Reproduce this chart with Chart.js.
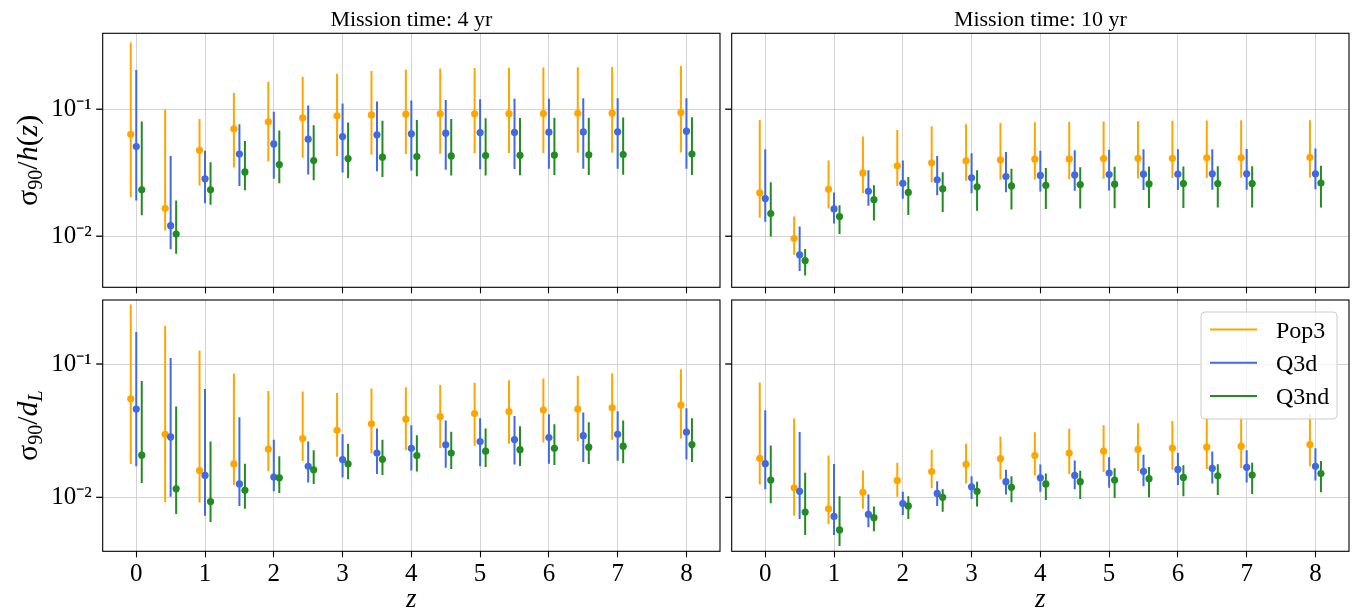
<!DOCTYPE html>
<html>
<head>
<meta charset="utf-8">
<script src="https://cdn.jsdelivr.net/npm/chart.js@4.4.0/dist/chart.umd.min.js"></script>
<style>
  html, body { margin: 0; padding: 0; background: #fff; }
  #fig { position: relative; width: 1353px; height: 610px; overflow: hidden; }
  #fig canvas { position: absolute; }
</style>
</head>
<body>
<div id="fig">
  <canvas id="h4" width="726" height="296" style="left:0px;top:0px"></canvas>
  <canvas id="h10" width="637" height="296" style="left:716px;top:0px"></canvas>
  <canvas id="dl4" width="726" height="314" style="left:0px;top:296px"></canvas>
  <canvas id="dl10" width="637" height="314" style="left:716px;top:296px"></canvas>
</div>
<script>
// redshift bins
const zValues = [0, 0.5, 1, 1.5, 2, 2.5, 3, 3.5, 4, 4.5, 5, 5.5, 6, 6.5, 7, 8];
const seriesNames = ["Pop3", "Q3d", "Q3nd"];
const xTickValues = [0, 1, 2, 3, 4, 5, 6, 7, 8];

// each row: [lower, median, upper]  -- sigma90 / h(z), 4 yr
const h4Pop3 = [[0.0203, 0.0635, 0.335], [0.0111, 0.0166, 0.0989], [0.0251, 0.0475, 0.0839], [0.0347, 0.070, 0.134],
  [0.0387, 0.0795, 0.164], [0.0414, 0.0855, 0.180], [0.0429, 0.0887, 0.190], [0.0437, 0.0902, 0.200],
  [0.0443, 0.0914, 0.205], [0.0445, 0.0919, 0.209], [0.0451, 0.0919, 0.211], [0.0452, 0.0922, 0.212],
  [0.0453, 0.0925, 0.213], [0.0454, 0.0928, 0.214], [0.0455, 0.093, 0.215], [0.0456, 0.0942, 0.219]];
const h4Q3d = [[0.0191, 0.0508, 0.204], [0.0079, 0.0121, 0.0429], [0.0182, 0.0283, 0.047], [0.0249, 0.0443, 0.0762],
  [0.0283, 0.0533, 0.0953], [0.0306, 0.0581, 0.107], [0.0317, 0.0609, 0.111], [0.0325, 0.0628, 0.115],
  [0.0329, 0.064, 0.117], [0.0333, 0.0647, 0.118], [0.0337, 0.0655, 0.120], [0.0338, 0.0657, 0.121],
  [0.0339, 0.066, 0.121], [0.034, 0.0662, 0.122], [0.034, 0.0664, 0.122], [0.0339, 0.0671, 0.122]];
const h4Q3nd = [[0.0146, 0.0232, 0.080], [0.00726, 0.0104, 0.0191], [0.0177, 0.0232, 0.0383], [0.023, 0.0321, 0.0563],
  [0.0261, 0.0367, 0.0679], [0.0276, 0.0394, 0.0748], [0.0286, 0.0409, 0.0785], [0.0293, 0.0419, 0.081],
  [0.0297, 0.0424, 0.0824], [0.0301, 0.0429, 0.0839], [0.0301, 0.0432, 0.0849], [0.0302, 0.0433, 0.0852],
  [0.0303, 0.0435, 0.0855], [0.0304, 0.0437, 0.0857], [0.0305, 0.0439, 0.086], [0.0304, 0.0443, 0.0865]];

// sigma90 / h(z), 10 yr
const h10Pop3 = [[0.014, 0.0219, 0.0824], [0.00713, 0.00959, 0.0143], [0.0165, 0.0234, 0.0394], [0.0218, 0.0315, 0.0609],
  [0.0249, 0.0358, 0.0687], [0.0265, 0.0378, 0.0735], [0.0273, 0.0392, 0.0762], [0.0278, 0.0399, 0.078],
  [0.0279, 0.0404, 0.079], [0.0281, 0.0406, 0.0795], [0.0283, 0.0409, 0.080], [0.0285, 0.0411, 0.0805],
  [0.0287, 0.0411, 0.081], [0.0287, 0.0414, 0.0815], [0.0288, 0.0414, 0.082], [0.029, 0.0417, 0.082]];
const h10Q3d = [[0.013, 0.0198, 0.0484], [0.00533, 0.00713, 0.0119], [0.0126, 0.0164, 0.0221], [0.0174, 0.0226, 0.0331],
  [0.0197, 0.0261, 0.0394], [0.021, 0.0278, 0.0429], [0.0218, 0.0288, 0.0451], [0.0222, 0.0295, 0.0461],
  [0.0225, 0.0301, 0.047], [0.0228, 0.0304, 0.0475], [0.0229, 0.0306, 0.0479], [0.0231, 0.0308, 0.0484],
  [0.0231, 0.0308, 0.0484], [0.0232, 0.031, 0.0484], [0.0232, 0.031, 0.0487], [0.0234, 0.031, 0.049]];
const h10Q3nd = [[0.00994, 0.0151, 0.0266], [0.0049, 0.00643, 0.00794], [0.0104, 0.0143, 0.0175], [0.0133, 0.0194, 0.0252],
  [0.0147, 0.0221, 0.0293], [0.0155, 0.0236, 0.0319], [0.0159, 0.0245, 0.0331], [0.0162, 0.0249, 0.0339],
  [0.0164, 0.0252, 0.0345], [0.0165, 0.0255, 0.0349], [0.0166, 0.0257, 0.0352], [0.0167, 0.0258, 0.0354],
  [0.0167, 0.026, 0.0354], [0.0168, 0.026, 0.0356], [0.0168, 0.026, 0.0356], [0.0168, 0.0262, 0.0358]];

// sigma90 / dL, 4 yr
const dl4Pop3 = [[0.0178, 0.0548, 0.279], [0.00919, 0.0297, 0.193], [0.00914, 0.0159, 0.126], [0.0123, 0.0178, 0.0849],
  [0.0157, 0.023, 0.0628], [0.0187, 0.0276, 0.0621], [0.0202, 0.0318, 0.0607], [0.0214, 0.0356, 0.0654],
  [0.0226, 0.0386, 0.0669], [0.0234, 0.0404, 0.0696], [0.0244, 0.0425, 0.0724], [0.0252, 0.044, 0.0757],
  [0.0258, 0.0452, 0.0779], [0.0264, 0.046, 0.0815], [0.027, 0.047, 0.0853], [0.0276, 0.0492, 0.0913]];
const dl4Q3d = [[0.0171, 0.046, 0.174], [0.0101, 0.0284, 0.111], [0.00728, 0.0146, 0.065], [0.00863, 0.0126, 0.0399],
  [0.0111, 0.0142, 0.027], [0.0129, 0.0171, 0.0262], [0.0141, 0.0192, 0.0297], [0.015, 0.0215, 0.0329],
  [0.0159, 0.0233, 0.0348], [0.0167, 0.0248, 0.0377], [0.0171, 0.0262, 0.0392], [0.0176, 0.0271, 0.0408],
  [0.0179, 0.0281, 0.042], [0.0184, 0.029, 0.0432], [0.0188, 0.0297, 0.0442], [0.0192, 0.0309, 0.0465]];
const dl4Q3nd = [[0.0128, 0.0207, 0.0745], [0.00749, 0.0116, 0.0481], [0.00653, 0.00929, 0.0262], [0.0082, 0.0113, 0.0179],
  [0.0108, 0.014, 0.0203], [0.0126, 0.0161, 0.0226], [0.0137, 0.0178, 0.0252], [0.0147, 0.0193, 0.027],
  [0.0156, 0.0206, 0.0292], [0.0163, 0.0215, 0.0311], [0.0169, 0.0222, 0.0329], [0.0172, 0.0228, 0.0342],
  [0.0175, 0.0233, 0.0354], [0.0178, 0.0238, 0.0366], [0.018, 0.0242, 0.0377], [0.0184, 0.0249, 0.0392]];

// sigma90 / dL, 10 yr
const dl10Pop3 = [[0.0125, 0.0196, 0.0728], [0.00728, 0.0118, 0.039], [0.00632, 0.0082, 0.0206], [0.0082, 0.0109, 0.0159],
  [0.0101, 0.0134, 0.0182], [0.0117, 0.0156, 0.0228], [0.0127, 0.0177, 0.0252], [0.0137, 0.0195, 0.0286],
  [0.0146, 0.0206, 0.0308], [0.015, 0.0215, 0.0327], [0.0155, 0.0222, 0.0348], [0.0158, 0.0229, 0.036],
  [0.0161, 0.0234, 0.0373], [0.0163, 0.0238, 0.0394], [0.0166, 0.0242, 0.0406], [0.0171, 0.0249, 0.0418]];
const dl10Q3d = [[0.0115, 0.0179, 0.045], [0.00688, 0.0111, 0.0309], [0.00521, 0.0072, 0.0178], [0.00597, 0.00745, 0.0105],
  [0.00736, 0.00898, 0.011], [0.00863, 0.0107, 0.0132], [0.00973, 0.012, 0.0144], [0.0105, 0.0131, 0.0161],
  [0.011, 0.014, 0.0176], [0.0115, 0.0146, 0.0189], [0.0118, 0.0152, 0.020], [0.0121, 0.0157, 0.0209],
  [0.0124, 0.0162, 0.0215], [0.0127, 0.0165, 0.0221], [0.0129, 0.0168, 0.0226], [0.0134, 0.0171, 0.0233]];
const dl10Q3nd = [[0.00904, 0.0135, 0.0245], [0.00521, 0.00775, 0.0153], [0.00432, 0.0057, 0.0102], [0.00557, 0.00704, 0.00853],
  [0.00688, 0.00863, 0.0102], [0.0078, 0.010, 0.0115], [0.00853, 0.0111, 0.0131], [0.00919, 0.0119, 0.0144],
  [0.00955, 0.0126, 0.0151], [0.00973, 0.0131, 0.0158], [0.00989, 0.0135, 0.0165], [0.010, 0.0138, 0.0169],
  [0.0102, 0.0141, 0.0174], [0.0104, 0.0145, 0.0177], [0.0106, 0.0147, 0.0182], [0.0109, 0.0151, 0.0187]];

const colors = ["#ffa500", "#4169e1", "#228b22"];
const dodge = [-0.08, 0, 0.08];
const family = "'Liberation Serif', 'Times New Roman', serif";
const gridColor = "#d3d3d3";

Chart.defaults.font.family = family;
Chart.defaults.color = "#000";

// log tick positions (minor + decades)
const yTickValues = [];
[-3, -2, -1].forEach(function (e) {
  for (let m = 1; m <= 9; m++) yTickValues.push(m * Math.pow(10, e));
});

function isDecade(v) {
  const l = Math.log10(v);
  return Math.abs(l - Math.round(l)) < 1e-6;
}
const supMap = { "-": "\u207b", "0": "\u2070", "1": "\u00b9", "2": "\u00b2", "3": "\u00b3" };
function decadeLabel(v) {
  const e = String(Math.round(Math.log10(v)));
  return "10" + e.split("").map(c => supMap[c]).join("");
}

function errData(rows, off) {
  const out = [];
  rows.forEach(function (r, i) {
    const x = zValues[i] + off;
    out.push({ x: x, y: r[0] }, { x: x, y: r[2] }, { x: x, y: null });
  });
  return out;
}
function midData(rows, off) {
  return rows.map((r, i) => ({ x: zValues[i] + off, y: r[1] }));
}

// frame, minor/major y tick marks, y label, legend
const framePlugin = {
  id: "frame",
  afterDatasetsDraw(chart) {
    const { ctx, chartArea: a } = chart;
    const ys = chart.scales.y;
    ctx.save();
    ctx.strokeStyle = "#000";
    ys.ticks.forEach(function (t) {
      const py = ys.getPixelForValue(t.value);
      const major = isDecade(t.value);
      ctx.lineWidth = major ? 1.3 : 1;
      ctx.beginPath();
      ctx.moveTo(a.left - (major ? 6.5 : 4), py);
      ctx.lineTo(a.left, py);
      ctx.stroke();
    });
    ctx.lineWidth = 1.1;
    ctx.strokeRect(a.left, a.top, a.right - a.left, a.bottom - a.top);
    ctx.restore();
  },
  afterDraw(chart, args, opts) {
    const { ctx, chartArea: a } = chart;
    if (opts.ylabel) {
      const parts = opts.ylabel;
      ctx.save();
      ctx.translate(37, (a.top + a.bottom) / 2);
      ctx.rotate(-Math.PI / 2);
      ctx.fillStyle = "#000";
      ctx.textBaseline = "alphabetic";
      let total = 0;
      parts.forEach(function (p) {
        ctx.font = (p.italic ? "italic " : "") + p.size + "px " + family;
        p.w = ctx.measureText(p.t).width;
        total += p.w;
      });
      let x = -total / 2;
      parts.forEach(function (p) {
        ctx.font = (p.italic ? "italic " : "") + p.size + "px " + family;
        ctx.fillText(p.t, x, p.dy || 0);
        x += p.w;
      });
      ctx.restore();
    }
    if (opts.legend) {
      const items = chart.data.datasets.filter(d => d.type === "scatter");
      const bw = 136, bh = 107;
      const bx = a.right - 12 - bw, by = a.top + 12;
      ctx.save();
      ctx.beginPath();
      ctx.roundRect(bx, by, bw, bh, 4);
      ctx.fillStyle = "rgba(255,255,255,0.8)";
      ctx.fill();
      ctx.strokeStyle = "#cccccc";
      ctx.lineWidth = 1;
      ctx.stroke();
      ctx.font = "24px " + family;
      ctx.textBaseline = "alphabetic";
      items.forEach(function (d, i) {
        const ly = by + 17.5 + i * 33.3;
        ctx.strokeStyle = d.borderColor;
        ctx.lineWidth = 2;
        ctx.beginPath();
        ctx.moveTo(bx + 9, ly);
        ctx.lineTo(bx + 56, ly);
        ctx.stroke();
        ctx.fillStyle = "#000";
        ctx.fillText(d.label, bx + 75, ly + 8);
      });
      ctx.restore();
    }
  }
};

function makePanel(id, series, p) {
  const datasets = [];
  series.forEach(function (rows, s) {
    datasets.push({
      type: "line", label: seriesNames[s] + " range", data: errData(rows, dodge[s]),
      borderColor: colors[s], borderWidth: 2, pointRadius: 0, spanGaps: false,
      fill: false, tension: 0, order: 6 - 2 * s
    });
    datasets.push({
      type: "scatter", label: seriesNames[s], data: midData(rows, dodge[s]),
      borderColor: colors[s], backgroundColor: colors[s], pointRadius: 3.6,
      pointBorderWidth: 0, order: 5 - 2 * s
    });
  });

  return new Chart(document.getElementById(id), {
    type: "scatter",
    data: { datasets: datasets },
    options: {
      responsive: false,
      animation: false,
      devicePixelRatio: 1,
      layout: { padding: p.padding },
      plugins: {
        legend: { display: false },
        tooltip: { enabled: false },
        title: {
          display: !!p.title, text: p.title || "", fullSize: false, color: "#000",
          font: { family: family, size: 22, weight: "normal", lineHeight: 1.2 },
          padding: { top: 6.8, bottom: 0.1 }
        },
        frame: { ylabel: p.ylabel, legend: p.legend }
      },
      scales: {
        x: {
          type: "linear", min: -0.488, max: 8.488,
          afterBuildTicks: s => { s.ticks = xTickValues.map(v => ({ value: v })); },
          afterFit: s => { s.height = p.xHeight; s.paddingLeft = 0; s.paddingRight = 0; },
          grid: { color: gridColor, lineWidth: 1, tickColor: "#000", tickLength: 6, tickWidth: 1.1 },
          border: { display: false },
          ticks: {
            display: p.xLabels, autoSkip: false, maxRotation: 0, padding: 2, color: "#000",
            font: { family: family, size: 25 }
          },
          title: {
            display: p.xLabels, text: "z", color: "#000",
            font: { family: family, size: 27, style: "italic" },
            padding: { top: 0, bottom: -6 }
          }
        },
        y: {
          type: "logarithmic", min: p.yMin, max: p.yMax,
          afterBuildTicks: s => {
            s.ticks = yTickValues.filter(v => v >= p.yMin && v <= p.yMax)
              .map(v => ({ value: v, major: isDecade(v) }));
          },
          afterFit: s => { s.width = p.yWidth; s.paddingTop = 0; s.paddingBottom = 0; },
          grid: {
            color: c => (c.tick && isDecade(c.tick.value)) ? gridColor : "rgba(0,0,0,0)",
            lineWidth: 1, drawTicks: false
          },
          border: { display: false },
          ticks: {
            display: p.yLabels, autoSkip: false, padding: 11, color: "#000",
            font: { family: family, size: 25 },
            callback: v => isDecade(v) ? decadeLabel(v) : null
          }
        }
      }
    },
    plugins: [framePlugin]
  });
}

const labelH = [
  { t: "\u03c3", size: 30 }, { t: "90", size: 20, dy: 5 }, { t: "/", size: 30 },
  { t: "h", size: 30, italic: true }, { t: "(", size: 30 }, { t: "z", size: 30, italic: true }, { t: ")", size: 30 }
];
const labelD = [
  { t: "\u03c3", size: 30 }, { t: "90", size: 20, dy: 5 }, { t: "/", size: 30 },
  { t: "d", size: 30, italic: true }, { t: "L", size: 20, italic: true, dy: 5 }
];

makePanel("h4", [h4Pop3, h4Q3d, h4Q3nd], {
  title: "Mission time: 4 yr", padding: { left: 0, top: 0, right: 6, bottom: 0 },
  yWidth: 102.7, xHeight: 8.7, yMin: 0.00396, yMax: 0.396, xLabels: false, yLabels: true, ylabel: labelH
});
makePanel("h10", [h10Pop3, h10Q3d, h10Q3nd], {
  title: "Mission time: 10 yr", padding: { left: 0, top: 0, right: 4, bottom: 0 },
  yWidth: 15.7, xHeight: 8.7, yMin: 0.00396, yMax: 0.396, xLabels: false, yLabels: false
});
makePanel("dl4", [dl4Pop3, dl4Q3d, dl4Q3nd], {
  padding: { left: 0, top: 1.3, right: 6, bottom: 0 },
  yWidth: 102.7, xHeight: 58.7, yMin: 0.00394, yMax: 0.302, xLabels: true, yLabels: true, ylabel: labelD
});
makePanel("dl10", [dl10Pop3, dl10Q3d, dl10Q3nd], {
  padding: { left: 0, top: 1.3, right: 4, bottom: 0 },
  yWidth: 15.7, xHeight: 58.7, yMin: 0.00394, yMax: 0.302, xLabels: true, yLabels: false, legend: true
});
</script>
</body>
</html>
